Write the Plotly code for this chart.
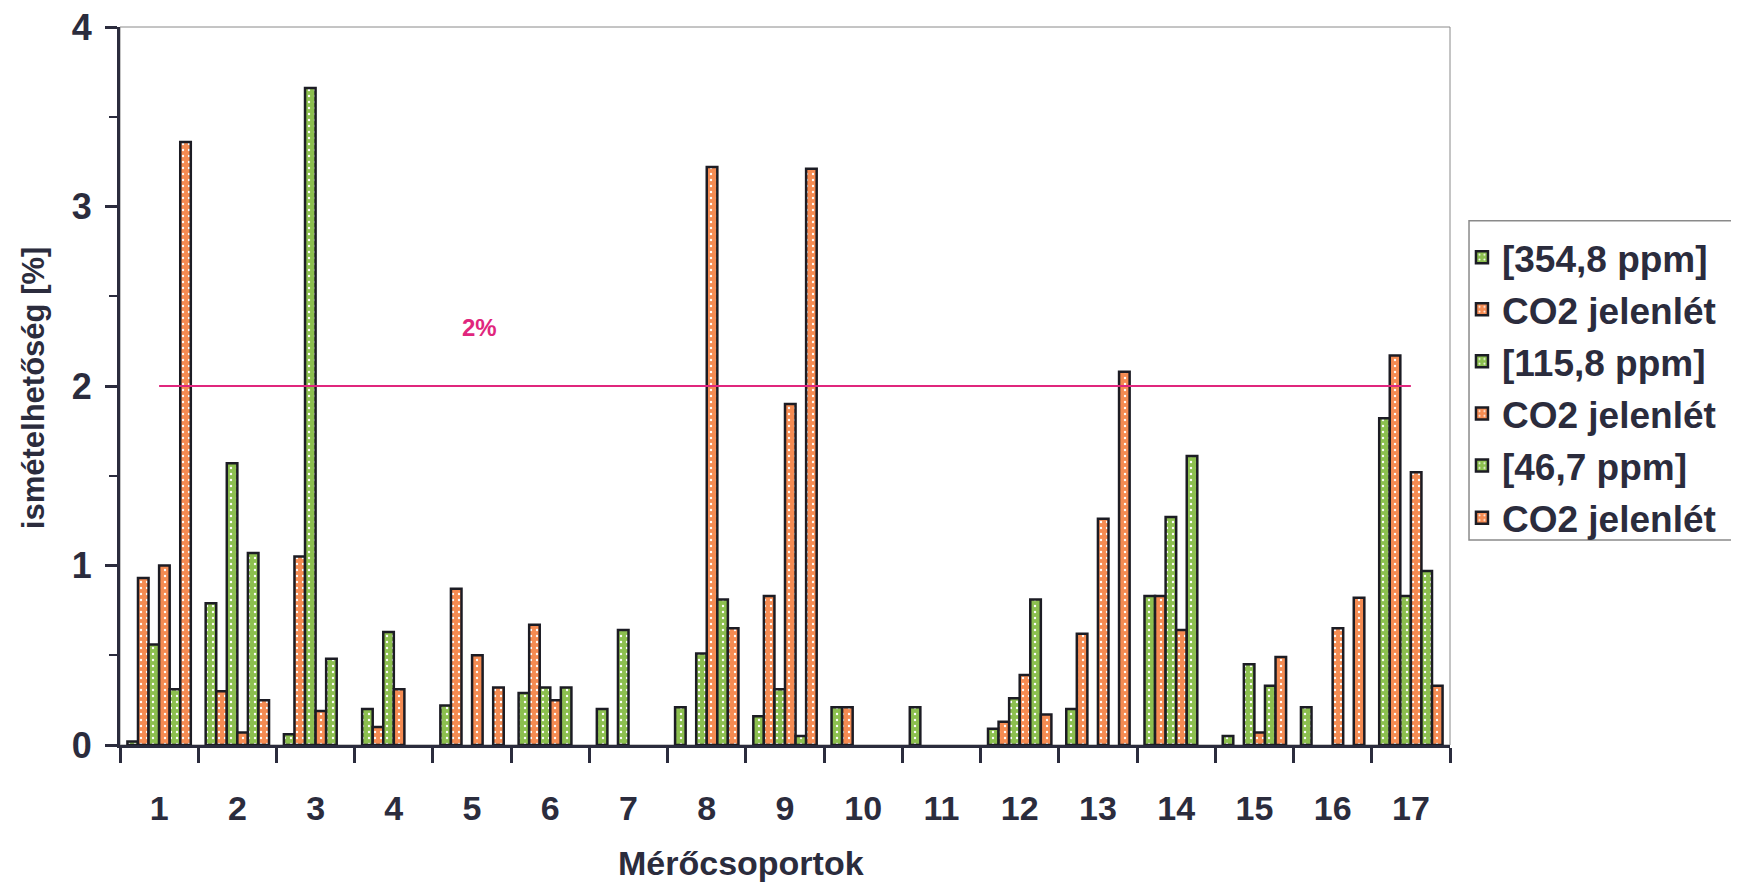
import plotly.graph_objects as go

groups = [str(i) for i in range(1, 18)]

s_354 = [0.02, 0.79, 0.06, 0.20, 0.22, 0.29, 0.20, 0.21, 0.16, 0.21, 0.21, 0.09, 0.20, 0.83, 0.05, 0.21, 1.82]
s_354_co2 = [0.93, 0.30, 1.05, 0.10, 0.87, 0.67, None, None, 0.83, 0.21, None, 0.13, 0.62, 0.83, None, None, 2.17]
s_115 = [0.56, 1.57, 3.66, 0.63, None, 0.32, 0.64, 0.51, 0.31, None, None, 0.26, None, 1.27, 0.45, None, 0.83]
s_115_co2 = [1.00, 0.07, 0.19, 0.31, 0.50, 0.25, None, 3.22, 1.90, None, None, 0.39, 1.26, 0.64, 0.07, 0.65, 1.52]
s_46 = [0.31, 1.07, 0.48, None, None, 0.32, None, 0.81, 0.05, None, None, 0.81, None, 1.61, 0.33, None, 0.97]
s_46_co2 = [3.36, 0.25, None, None, 0.32, None, None, 0.65, 3.21, None, None, 0.17, 2.08, None, 0.49, 0.82, 0.33]

series_names = ["[354,8 ppm]", "CO2 jelenlét", "[115,8 ppm]", "CO2 jelenlét", "[46,7 ppm]", "CO2 jelenlét"]
series_values = [s_354, s_354_co2, s_115, s_115_co2, s_46, s_46_co2]

threshold = 2.0
threshold_label = "2%"
threshold_span = ["1", "17"]

GREEN = "#8cbf4f"
ORANGE = "#f58b52"
colors = [GREEN, ORANGE, GREEN, ORANGE, GREEN, ORANGE]
DARK = "#2b2c3d"
FONT = "Liberation Sans, Arial, Helvetica, sans-serif"

fig = go.Figure()
for i, (name, vals, col) in enumerate(zip(series_names, series_values, colors)):
    fig.add_trace(go.Bar(
        x=groups, y=vals, name=name, legendgroup=f"g{i}",
        marker=dict(
            color=col,
            line=dict(color="#1c1c24", width=2.5),
            pattern=dict(shape=".", fgcolor="white", bgcolor=col, size=6, solidity=0.12, fillmode="replace"),
        ),
    ))

fig.add_trace(go.Scatter(
    x=threshold_span, y=[threshold, threshold], mode="lines",
    line=dict(color="#e0267d", width=2), showlegend=False, hoverinfo="skip",
))

fig.update_layout(
    width=1731, height=881,
    margin=dict(l=112, r=289, t=19, b=144),
    paper_bgcolor="white", plot_bgcolor="white",
    barmode="group", bargap=0.19, bargroupgap=0,
    font=dict(family=FONT, color=DARK, weight="bold"),
    showlegend=True,
    legend=dict(
        x=1.009, xanchor="left", y=0.722, yanchor="top",
        font=dict(family=FONT, size=37, color=DARK, weight="bold"),
        bgcolor="rgba(0,0,0,0)", borderwidth=0,
        tracegroupgap=1, traceorder="grouped",
    ),
    xaxis=dict(
        type="category", showgrid=False, zeroline=False, automargin=False,
        showline=True, linecolor=DARK, linewidth=3,
        ticks="outside", ticklen=15, tickwidth=3, tickcolor=DARK,
        tickson="boundaries",
        tickfont=dict(family=FONT, size=34, color=DARK, weight="bold"),
        ticklabelstandoff=31, ticklabeloverflow="allow",
    ),
    yaxis=dict(
        range=[0, 4], dtick=1, showgrid=False, zeroline=False, automargin=False,
        showline=True, linecolor=DARK, linewidth=3,
        ticks="outside", ticklen=12, tickwidth=3, tickcolor=DARK,
        minor=dict(dtick=0.5, ticks="outside", ticklen=8, tickwidth=2, tickcolor=DARK, showgrid=False),
        tickfont=dict(family=FONT, size=36, color=DARK, weight="bold"),
        ticklabelstandoff=6, ticklabeloverflow="allow",
    ),
    shapes=[
        dict(type="rect", xref="paper", yref="paper", x0=0, x1=1, y0=0, y1=1,
             line=dict(color="#8a8a8a", width=1), layer="below"),
        dict(type="rect", xref="paper", yref="paper", x0=1.0143, x1=1.3, y0=0.2855, y1=0.730,
             line=dict(color="#8a8a8a", width=1.5), layer="below"),
    ],
    annotations=[
        dict(text="Mérőcsoportok", xref="paper", yref="paper", x=0.467, y=-0.164,
             xanchor="center", yanchor="middle", showarrow=False,
             font=dict(family=FONT, size=34, color=DARK, weight="bold")),
        dict(text="ismételhetőség [%]", xref="paper", yref="paper", x=-0.0654, y=0.497,
             xanchor="center", yanchor="middle", showarrow=False, textangle=-90,
             font=dict(family=FONT, size=31, color=DARK, weight="bold")),
        dict(text=threshold_label, xref="paper", yref="paper", x=0.27, y=0.581,
             xanchor="center", yanchor="middle", showarrow=False,
             font=dict(family=FONT, size=24, color="#e0267d", weight="bold")),
    ],
)

fig.write_html("out.html")
